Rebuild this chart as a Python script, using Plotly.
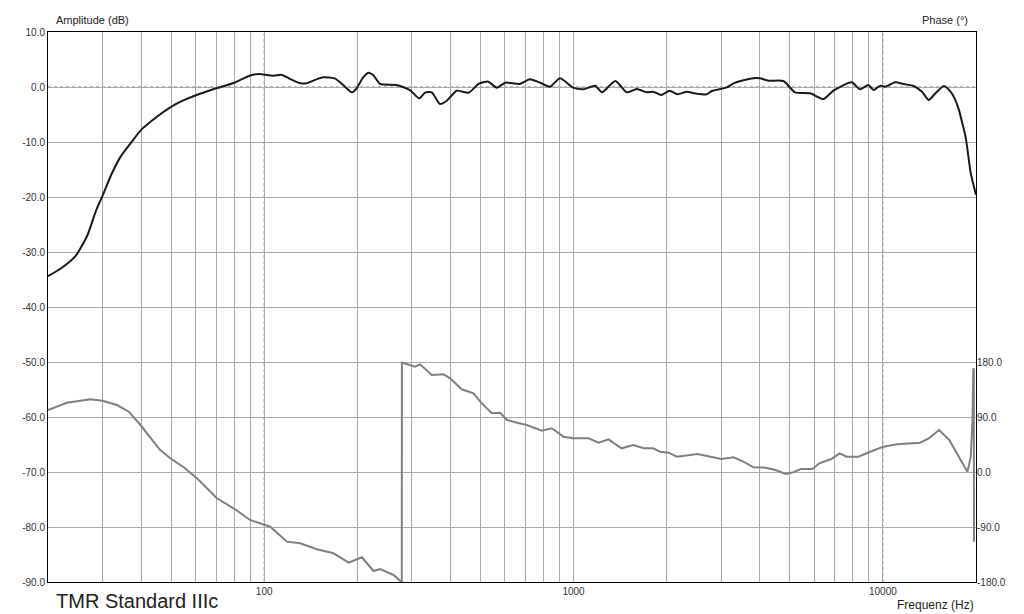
import plotly.graph_objects as go

# ---- Data ----
amp_freq = [20, 22, 24.5, 26.8, 28.5, 30, 32, 34.3, 37.4, 40, 45, 50, 55, 60.5, 70, 80, 90, 96,
            107, 114, 122, 131, 137, 146, 155, 169, 180, 192, 199, 208, 217, 225, 237, 268, 296,
            317, 331, 348, 370, 389, 419, 458, 493, 530, 565, 602, 670, 722, 779, 839,
            904, 998, 1075, 1175, 1235, 1365, 1486, 1600, 1725, 1810, 1920, 2045, 2175,
            2320, 2470, 2695, 2800, 3130, 3290, 3720, 4000, 4260, 4770, 5200, 5820, 6420,
            6920, 7930, 8430, 8970, 9330, 9800, 10180, 10960, 11660, 12570, 13380, 14070,
            14790, 15750, 16550, 17100, 17620, 18100, 18540, 19240, 20000]
amp_db = [-34.4, -33.0, -30.8, -27.0, -22.7, -19.8, -16.0, -12.7, -9.9, -7.8, -5.4, -3.6, -2.4,
          -1.45, -0.24, 0.78, 2.1, 2.36, 2.05, 2.2, 1.4, 0.67, 0.67, 1.3, 1.76, 1.58, 0.36,
          -0.97, -0.24, 1.6, 2.6, 2.18, 0.55, 0.36, -0.55, -2.06, -1.03, -0.97, -3.1, -2.5,
          -0.67, -1.03, 0.55, 0.97, -0.12, 0.79, 0.55, 1.4, 0.79, 0.06, 1.58, -0.12, -0.42,
          0.24, -0.97, 1.09, -0.97, -0.36, -0.97, -0.85, -1.45, -0.67, -1.33, -0.85, -1.15,
          -1.33, -0.73, -0.06, 0.67, 1.52, 1.58, 1.15, 1.09, -0.97, -1.15, -2.2, -0.67, 0.85,
          -0.42, 0.36, -0.55, 0.24, 0.06, 0.85, 0.55, 0.18, -0.85, -2.36, -1.15, 0.18, -0.85,
          -2.2, -4.2, -6.8, -9.3, -15.7, -19.6]

phase_freq = [20, 23.0, 27.4, 30, 33.4, 36.5, 39.8, 42.9, 46.1, 49.7, 54.9, 60.6, 70.3,
              79.6, 90, 104.6, 118.4, 130.7, 148, 167.5, 187.5, 207, 225.6, 237, 262,
              275.5, 278.4, 278.7, 292.7, 307, 319, 348, 380, 399, 435, 475, 505, 544,
              579, 609, 656, 706, 790, 851, 928, 1000, 1118, 1205, 1297, 1430, 1561,
              1686, 1810, 1904, 2030, 2160, 2515, 2750, 3010, 3290, 3540, 3820, 4170,
              4500, 4850, 5100, 5430, 5920, 6230, 6810, 7250, 7630, 8330, 9100, 10040,
              11100, 13190, 14070, 15200, 16390, 17620, 18760, 19240, 19480, 19600,
              19680, 19700]
phase_deg = [101.5, 113.4, 118.9, 116.7, 109.6, 98.7, 76.9, 55.1, 36.0, 22.4, 7.7, -10.3,
             -43.0, -59.4, -78.5, -89.5, -114.0, -116.7, -126.5, -133.0, -148.4, -139.6,
             -162.0, -158.7, -168.5, -178.4, -180.0, 178.9, 175.0, 172.3, 176.2, 158.7,
             159.9, 153.3, 135.3, 128.8, 112.4, 96.0, 97.0, 85.1, 80.7, 76.9, 67.6, 71.5,
             57.8, 55.1, 55.1, 48.0, 53.5, 38.8, 44.2, 38.8, 38.8, 33.2, 31.6, 25.1, 29.5,
             25.1, 21.3, 24.1, 16.9, 7.7, 7.1, 3.3, -3.3, -0.9, 4.9, 4.9, 14.2, 21.3, 30.6,
             25.1, 25.1, 33.2, 41.5, 45.3, 48.0, 55.1, 68.7, 52.4, 25.1, 0.5, 25.1, 85.1,
             168.0, 168.0, -114.0]

x_grid_vals = [20, 30, 40, 50, 60, 70, 80, 90, 100, 200, 300, 400, 500, 600, 700, 800,
               900, 1000, 2000, 3000, 4000, 5000, 6000, 7000, 8000, 9000, 10000, 20000]
x_labeled = {100: "100", 1000: "1000", 10000: "10000"}
x_decades = [100, 1000, 10000]
amp_ticks = [10, 0, -10, -20, -30, -40, -50, -60, -70, -80, -90]
phase_ticks = [180, 90, 0, -90, -180]

FONT = "Liberation Sans, Arial, sans-serif"

fig = go.Figure()
fig.add_trace(go.Scatter(x=phase_freq, y=phase_deg, yaxis="y2", mode="lines",
                         line=dict(color="#808080", width=2), showlegend=False))
fig.add_trace(go.Scatter(x=amp_freq, y=amp_db, mode="lines",
                         line=dict(color="#1a1a1a", width=2, shape="spline", smoothing=0.6),
                         showlegend=False))

# darker dashed decade lines and 0 dB line, as in the reference grid
for d in x_decades:
    fig.add_vline(x=d, line=dict(color="#777777", width=1, dash="dot"), layer="below")
fig.add_hline(y=0, line=dict(color="#777777", width=1, dash="dot"), layer="below")

fig.update_layout(
    width=1024, height=614,
    margin=dict(l=48, r=48, t=32, b=32),
    paper_bgcolor="white", plot_bgcolor="white",
    font=dict(family=FONT, size=10, color="#333333"),
    xaxis=dict(type="log", range=[1.30103, 4.30103],
               tickvals=x_grid_vals,
               ticktext=[x_labeled.get(v, "") for v in x_grid_vals],
               showgrid=True, gridcolor="#aaaaaa", gridwidth=1,
               showline=True, linecolor="#000000", linewidth=1, mirror=True,
               ticks="", zeroline=False, tickfont=dict(size=10, color="#333")),
    yaxis=dict(range=[-90, 10], tickvals=amp_ticks,
               ticktext=[f"{v:.1f}" for v in amp_ticks],
               showgrid=True, gridcolor="#aaaaaa", gridwidth=1,
               showline=True, linecolor="#000000", linewidth=1, mirror=True,
               ticks="", zeroline=False, tickfont=dict(size=10, color="#333")),
    yaxis2=dict(overlaying="y", side="right", anchor="x", range=[-180, 720],
                tickvals=phase_ticks, ticktext=[f"{v:.1f}" for v in phase_ticks],
                showgrid=False, zeroline=False, ticks="", showline=False,
                tickfont=dict(size=10, color="#333")),
)

fig.add_annotation(text="Amplitude (dB)", xref="paper", yref="paper", x=0.007, y=1.0,
                   xanchor="left", yanchor="bottom", yshift=4, showarrow=False,
                   font=dict(size=11, color="#222", family=FONT))
fig.add_annotation(text="Phase (°)", xref="paper", yref="paper", x=0.993, y=1.0,
                   xanchor="right", yanchor="bottom", yshift=4, showarrow=False,
                   font=dict(size=11, color="#222", family=FONT))
fig.add_annotation(text="Frequenz (Hz)", xref="paper", yref="paper", x=1.0, y=0.0,
                   xanchor="right", yanchor="top", yshift=-14, showarrow=False,
                   font=dict(size=12, color="#222", family=FONT))
fig.add_annotation(text="TMR Standard IIIc", xref="paper", yref="paper", x=0.007, y=0.0,
                   xanchor="left", yanchor="top", yshift=-6, showarrow=False,
                   font=dict(size=20, color="#222", family=FONT))

fig.write_html("out.html", config={"displayModeBar": False},
               post_script="document.body.style.margin='0px';")
